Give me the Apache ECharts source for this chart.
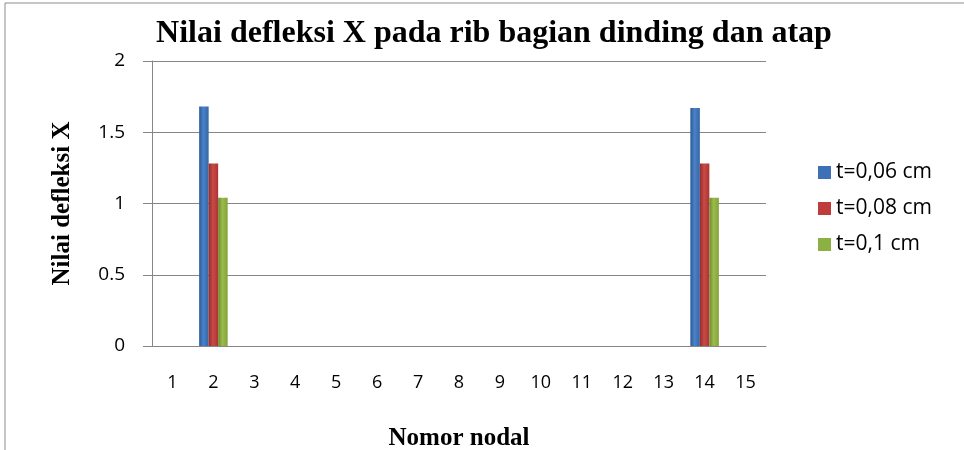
<!DOCTYPE html>
<html>
<head>
<meta charset="utf-8">
<script src="https://cdn.jsdelivr.net/npm/echarts@6/dist/echarts.min.js"></script>
<style>
  html, body { margin: 0; padding: 0; background: #fff; }
  #chart { width: 964px; height: 450px; }
</style>
</head>
<body>
<div id="chart"></div>
<script>
// nomor nodal
const nodes = ['1', '2', '3', '4', '5', '6', '7', '8', '9', '10', '11', '12', '13', '14', '15']
// nilai defleksi X tiap tebal
const t006 = [0, 1.68, 0, 0, 0, 0, 0, 0, 0, 0, 0, 0, 0, 1.67, 0]
const t008 = [0, 1.28, 0, 0, 0, 0, 0, 0, 0, 0, 0, 0, 0, 1.28, 0]
const t010 = [0, 1.04, 0, 0, 0, 0, 0, 0, 0, 0, 0, 0, 0, 1.04, 0]
const seriesNames = ['t=0,06 cm', 't=0,08 cm', 't=0,1 cm']

const chart = echarts.init(document.getElementById('chart'))

// gradien batang supaya mirip efek 3D excel
function barColor (dark, mid, light) {
    return new echarts.graphic.LinearGradient(0, 0, 1, 0, [
        { offset: 0, color: dark },
        { offset: 0.45, color: light },
        { offset: 1, color: mid }
    ])
}

const option = {
    animation: false,
    title: {
        text: 'Nilai defleksi X pada rib bagian dinding dan atap',
        left: 489,
        textAlign: 'center',
        top: 13,
        textStyle: {
            fontFamily: 'Liberation Serif',
            fontWeight: 'bold',
            fontSize: 32,
            color: '#000'
        }
    },
    graphic: [
        {
            type: 'rect',
            shape: { x: 5, y: 3, width: 980, height: 460 },
            style: { fill: 'none', stroke: '#8c8c8c', lineWidth: 1 }
        }
    ],
    grid: {
        left: 152,
        right: 198,
        top: 61,
        bottom: 104,
        outerBoundsMode: 'none'
    },
    legend: {
        orient: 'vertical',
        left: 813,
        top: 157,
        itemWidth: 13,
        itemHeight: 13,
        itemGap: 15,
        icon: 'rect',
        textStyle: {
            fontFamily: 'Open Sans',
            fontSize: 21,
            color: '#000'
        },
        data: seriesNames
    },
    xAxis: {
        type: 'category',
        data: nodes,
        name: 'Nomor nodal',
        nameLocation: 'middle',
        nameGap: 80,
        nameTextStyle: {
            fontFamily: 'Liberation Serif',
            fontWeight: 'bold',
            fontSize: 25,
            color: '#000'
        },
        axisLine: { lineStyle: { color: '#868686' } },
        axisTick: { show: false },
        axisLabel: {
            margin: 28,
            fontFamily: 'Open Sans',
            fontSize: 18,
            color: '#000'
        }
    },
    yAxis: {
        type: 'value',
        min: 0,
        max: 2,
        interval: 0.5,
        name: 'Nilai defleksi X',
        nameLocation: 'middle',
        nameGap: 77,
        nameTextStyle: {
            fontFamily: 'Liberation Serif',
            fontWeight: 'bold',
            fontSize: 25,
            color: '#000'
        },
        axisLine: { show: true, lineStyle: { color: '#868686' } },
        axisTick: { show: true, length: 9, lineStyle: { color: '#868686' } },
        splitLine: { lineStyle: { color: '#868686' } },
        axisLabel: {
            margin: 27,
            fontFamily: 'Open Sans',
            fontSize: 19,
            color: '#000'
        }
    },
    series: [
        {
            name: seriesNames[0],
            type: 'bar',
            data: t006,
            barWidth: 9.5,
            barGap: '0%',
            itemStyle: { color: barColor('#2c5a96', '#3565a8', '#4a82c8') }
        },
        {
            name: seriesNames[1],
            type: 'bar',
            data: t008,
            barWidth: 9.5,
            barGap: '0%',
            itemStyle: { color: barColor('#962b28', '#ad3431', '#c94a46') }
        },
        {
            name: seriesNames[2],
            type: 'bar',
            data: t010,
            barWidth: 9.5,
            barGap: '0%',
            itemStyle: { color: barColor('#6f8a2c', '#84a237', '#9bbb4f') }
        }
    ]
}
chart.setOption(option)
// legenda pakai warna polos
chart.setOption({
    legend: {
        data: [
            { name: seriesNames[0], itemStyle: { color: '#3d70b5' } },
            { name: seriesNames[1], itemStyle: { color: '#be3d3a' } },
            { name: seriesNames[2], itemStyle: { color: '#8db043' } }
        ]
    }
})
</script>
</body>
</html>
